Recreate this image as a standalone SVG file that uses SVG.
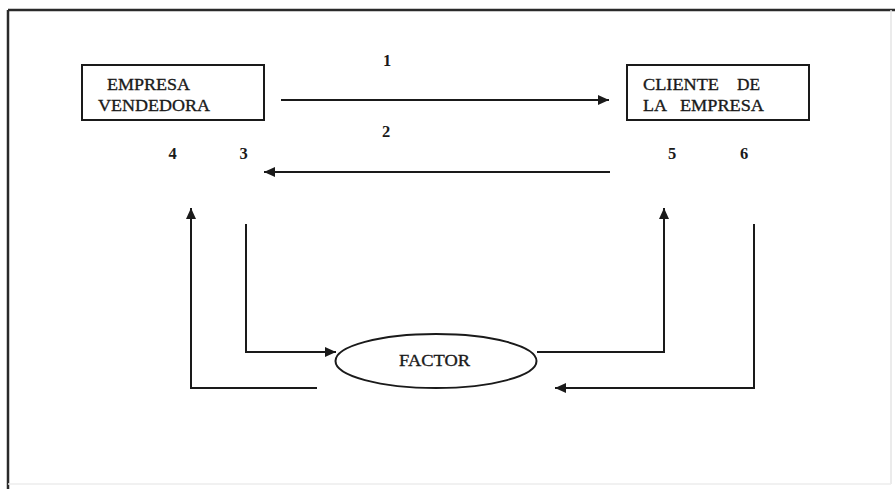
<svg xmlns="http://www.w3.org/2000/svg" width="895" height="489" viewBox="0 0 895 489">
  <defs>
    <marker id="head" markerWidth="11" markerHeight="10" refX="11" refY="5" orient="auto" markerUnits="userSpaceOnUse">
      <path d="M0,0 L11,5 L0,10 Z" fill="#1a1a1a"/>
    </marker>
    <style>
      .label { font-family: "Liberation Serif", "Times New Roman", serif; font-size: 17.5px; fill: #1a1a1a; stroke: #1a1a1a; stroke-width: 0.35; }
      .num { font-family: "Liberation Serif", "Times New Roman", serif; font-size: 16.5px; font-weight: bold; fill: #1a1a1a; text-anchor: middle; }
      .box { fill: #ffffff; stroke: #1a1a1a; stroke-width: 2; }
      .wire { fill: none; stroke: #1a1a1a; stroke-width: 2; }
    </style>
  </defs>

  <rect x="0" y="0" width="895" height="489" fill="#ffffff"/>

  <!-- outer frame -->
  <g id="frame">
    <line x1="8" y1="10" x2="895" y2="10" stroke="#2a2a2a" stroke-width="2.5"/>
    <line x1="8" y1="10" x2="8" y2="489" stroke="#2a2a2a" stroke-width="2.5"/>
    <line x1="891" y1="10" x2="891" y2="484" stroke="#e4e4e4" stroke-width="1.5"/>
    <line x1="8" y1="484" x2="891" y2="484" stroke="#ececec" stroke-width="1.5"/>
  </g>

  <!-- seller -->
  <g id="empresa-vendedora">
    <rect class="box" x="82" y="65" width="182" height="55"/>
    <text class="label" x="107" y="90" textLength="83" lengthAdjust="spacingAndGlyphs">EMPRESA</text>
    <text class="label" x="98" y="111" textLength="112" lengthAdjust="spacingAndGlyphs">VENDEDORA</text>
  </g>

  <!-- client -->
  <g id="cliente-empresa">
    <rect class="box" x="627" y="65" width="182" height="55"/>
    <text class="label" x="643" y="90" textLength="76" lengthAdjust="spacingAndGlyphs">CLIENTE</text>
    <text class="label" x="737" y="90" textLength="23" lengthAdjust="spacingAndGlyphs">DE</text>
    <text class="label" x="643" y="111" textLength="24" lengthAdjust="spacingAndGlyphs">LA</text>
    <text class="label" x="680" y="111" textLength="84" lengthAdjust="spacingAndGlyphs">EMPRESA</text>
  </g>

  <!-- factor -->
  <g id="factor">
    <ellipse cx="436" cy="361" rx="100.5" ry="27" fill="#ffffff" stroke="#1a1a1a" stroke-width="2"/>
    <text class="label" x="399" y="366" textLength="71" lengthAdjust="spacingAndGlyphs">FACTOR</text>
  </g>

  <!-- flows -->
  <g id="connectors">
    <line class="wire" x1="281" y1="100" x2="609" y2="100" marker-end="url(#head)"/>
    <line class="wire" x1="610" y1="172" x2="264" y2="172" marker-end="url(#head)"/>
    <polyline class="wire" points="317,388 191,388 191,208" marker-end="url(#head)"/>
    <polyline class="wire" points="246,224 246,352 336,352" marker-end="url(#head)"/>
    <polyline class="wire" points="537,352 664,352 664,208" marker-end="url(#head)"/>
    <polyline class="wire" points="754,224 754,388 555,388" marker-end="url(#head)"/>
  </g>

  <!-- flow numbers -->
  <g id="numbers">
    <text class="num" x="387" y="66">1</text>
    <text class="num" x="386" y="137">2</text>
    <text class="num" x="172.5" y="159">4</text>
    <text class="num" x="243.5" y="159">3</text>
    <text class="num" x="672" y="159">5</text>
    <text class="num" x="744" y="159">6</text>
  </g>
</svg>
